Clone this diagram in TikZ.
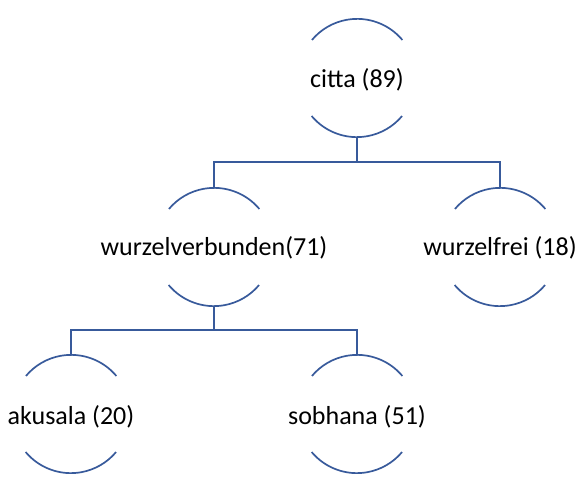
\documentclass[tikz,border=0pt]{standalone}
\usepackage{fontspec}
\setmainfont{Carlito}
\definecolor{lineblue}{RGB}{56,90,155}
\begin{document}
\begin{tikzpicture}[x=1pt,y=1pt,
  circ/.style={circle,minimum size=118pt,inner sep=0pt},
  txt/.style={font=\fontsize{26}{30}\selectfont,inner sep=0pt},
  arcs/.style={draw=lineblue,line width=1.7pt},
  conn/.style={draw=lineblue,line width=1.7pt}]
\useasboundingbox (0,0) rectangle (585,491);
\node[circ] (c) at (357,413) {};
\node[circ] (w) at (214,244) {};
\node[circ] (f) at (500,244) {};
\node[circ] (a) at (71,77) {};
\node[circ] (s) at (357,77) {};
\node[txt] (ct) at ([yshift=-2pt]c.center) {citta (89)};
\node[txt] (wt) at ([yshift=-1pt]w.center) {wurzelverbunden(71)};
\node[txt] (ft) at ([yshift=-1pt]f.center) {wurzelfrei (18)};
\node[txt] (at) at ([yshift=-3pt]a.center) {akusala (20)};
\node[txt] (st) at ([yshift=-3pt]s.center) {sobhana (51)};
\foreach \n in {c,w,f,a,s}{
  \draw[arcs] (\n.40) arc[start angle=40,end angle=140,radius=59pt];
  \draw[arcs] (\n.220) arc[start angle=220,end angle=320,radius=59pt];
}
\coordinate (j1) at ([yshift=-25pt]c.south);
\coordinate (j2) at ([yshift=-24pt]w.south);
\draw[conn] (c.south) -- (j1) -| (w.north);
\draw[conn] (j1) -| (f.north);
\draw[conn] (w.south) -- (j2) -| (a.north);
\draw[conn] (j2) -| (s.north);
\end{tikzpicture}
\end{document}
